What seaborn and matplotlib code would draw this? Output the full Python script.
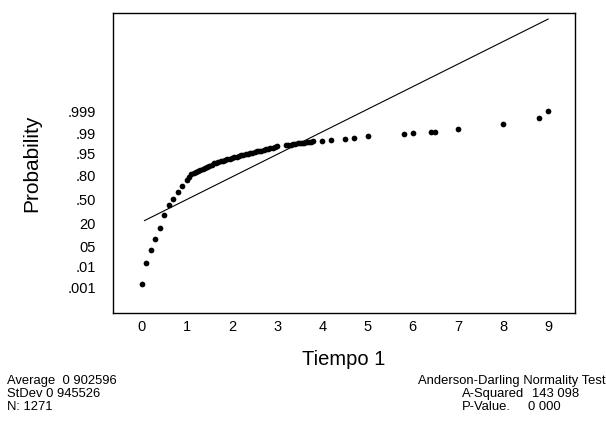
import matplotlib
matplotlib.use("Agg")
import matplotlib.pyplot as plt
import seaborn as sns
import pandas as pd

# ---- data (normal scores on a probability scale) ----
tiempo = [0.0, 0.1, 0.2, 0.3, 0.4, 0.5, 0.6, 0.7, 0.8, 0.9,
          1.0, 1.05, 1.1, 1.15, 1.2, 1.25, 1.3, 1.35, 1.4, 1.45,
          1.5, 1.55, 1.6, 1.65, 1.7, 1.75, 1.8, 1.85, 1.9, 1.95,
          2.0, 2.05, 2.1, 2.15, 2.2, 2.25, 2.3, 2.35, 2.4, 2.45,
          2.5, 2.55, 2.6, 2.65, 2.7, 2.75, 2.8, 2.85, 2.9, 2.95, 3.0,
          3.2, 3.25, 3.3, 3.35, 3.4, 3.45, 3.5, 3.55, 3.6, 3.65, 3.7, 3.75, 3.8,
          4.0, 4.2, 4.5, 4.7, 5.0, 5.8, 6.0, 6.4, 6.5, 7.0, 8.0, 8.8, 9.0]
normal_score = [-2.95, -2.22, -1.76, -1.38, -1.00, -0.54, -0.19, 0.02, 0.29, 0.49,
                0.70, 0.82, 0.90, 0.94, 0.97, 1.01, 1.05, 1.09, 1.12, 1.16,
                1.20, 1.24, 1.28, 1.30, 1.33, 1.36, 1.38, 1.40, 1.42, 1.45,
                1.47, 1.49, 1.51, 1.54, 1.56, 1.58, 1.60, 1.62, 1.64, 1.66,
                1.68, 1.70, 1.72, 1.73, 1.75, 1.77, 1.79, 1.81, 1.83, 1.85, 1.88,
                1.92, 1.93, 1.94, 1.96, 1.97, 1.98, 1.99, 2.00, 2.01, 2.02, 2.03, 2.04, 2.05,
                2.08, 2.10, 2.15, 2.17, 2.25, 2.30, 2.36, 2.38, 2.38, 2.50, 2.66, 2.86, 3.11]

fit_x = [0.06, 9.0]
fit_score = [-0.73, 6.35]

prob_ticks = [3.09, 2.326, 1.645, 0.842, 0.0, -0.842, -1.645, -2.326, -3.09]
prob_labels = [".999", ".99", ".95", ".80", ".50", "20", "05", ".01", ".001"]
x_ticks = [0, 1, 2, 3, 4, 5, 6, 7, 8, 9]

stats_left = ["Average  0 902596", "StDev 0 945526", "N: 1271"]
test_title = "Anderson-Darling Normality Test"
a_squared = "143 098"
p_value = "0 000"

# ---- plotting ----
sns.set_theme(style="white")
plt.rcParams["font.family"] = ["Liberation Sans", "DejaVu Sans"]
plt.rcParams["axes.edgecolor"] = "black"
plt.rcParams["axes.linewidth"] = 1.0

fig = plt.figure(figsize=(6.06, 4.21), dpi=100)
ax = fig.add_axes([112.7 / 606, 1 - 312.7 / 421, (575 - 112.7) / 606, (312.7 - 13) / 421])

pts = pd.DataFrame({"Tiempo 1": tiempo, "score": normal_score})
fit = pd.DataFrame({"x": fit_x, "y": fit_score})

sns.lineplot(data=fit, x="x", y="y", ax=ax, color="black", linewidth=0.8)
sns.scatterplot(data=pts, x="Tiempo 1", y="score", ax=ax, color="black",
                s=17, marker="o", edgecolor="black", linewidth=0)

ax.set_xlim(-0.64, 9.59)
ax.set_ylim(-3.96, 6.56)
ax.set_xticks(x_ticks)
ax.set_xticklabels([str(t) for t in x_ticks])
ax.set_yticks(prob_ticks)
ax.set_yticklabels(prob_labels)
ax.tick_params(axis="both", direction="out", length=4, width=1.0, colors="black",
               labelsize=10.5)
ax.tick_params(axis="y", pad=8)
ax.tick_params(axis="x", pad=1.5)

ax.set_xlabel("Tiempo 1", fontsize=14.5, color="black", labelpad=11)
ax.set_ylabel("Probability", fontsize=15, color="black", labelpad=19)

for i, line in enumerate(stats_left):
    fig.text(7 / 606, 1 - (381 + 13 * i) / 421, line, fontsize=9.4,
             ha="left", va="center", color="black")

fig.text(605 / 606, 1 - 381 / 421, test_title, fontsize=9.4, ha="right",
         va="center", color="black")
fig.text(462 / 606, 1 - 394 / 421, "A-Squared", fontsize=9.4, ha="left",
         va="center", color="black")
fig.text(579 / 606, 1 - 394 / 421, a_squared, fontsize=9.4, ha="right",
         va="center", color="black")
fig.text(462 / 606, 1 - 407 / 421, "P-Value.", fontsize=9.4, ha="left",
         va="center", color="black")
fig.text(561 / 606, 1 - 407 / 421, p_value, fontsize=9.4, ha="right",
         va="center", color="black")

fig.savefig("out.png", dpi=100)
